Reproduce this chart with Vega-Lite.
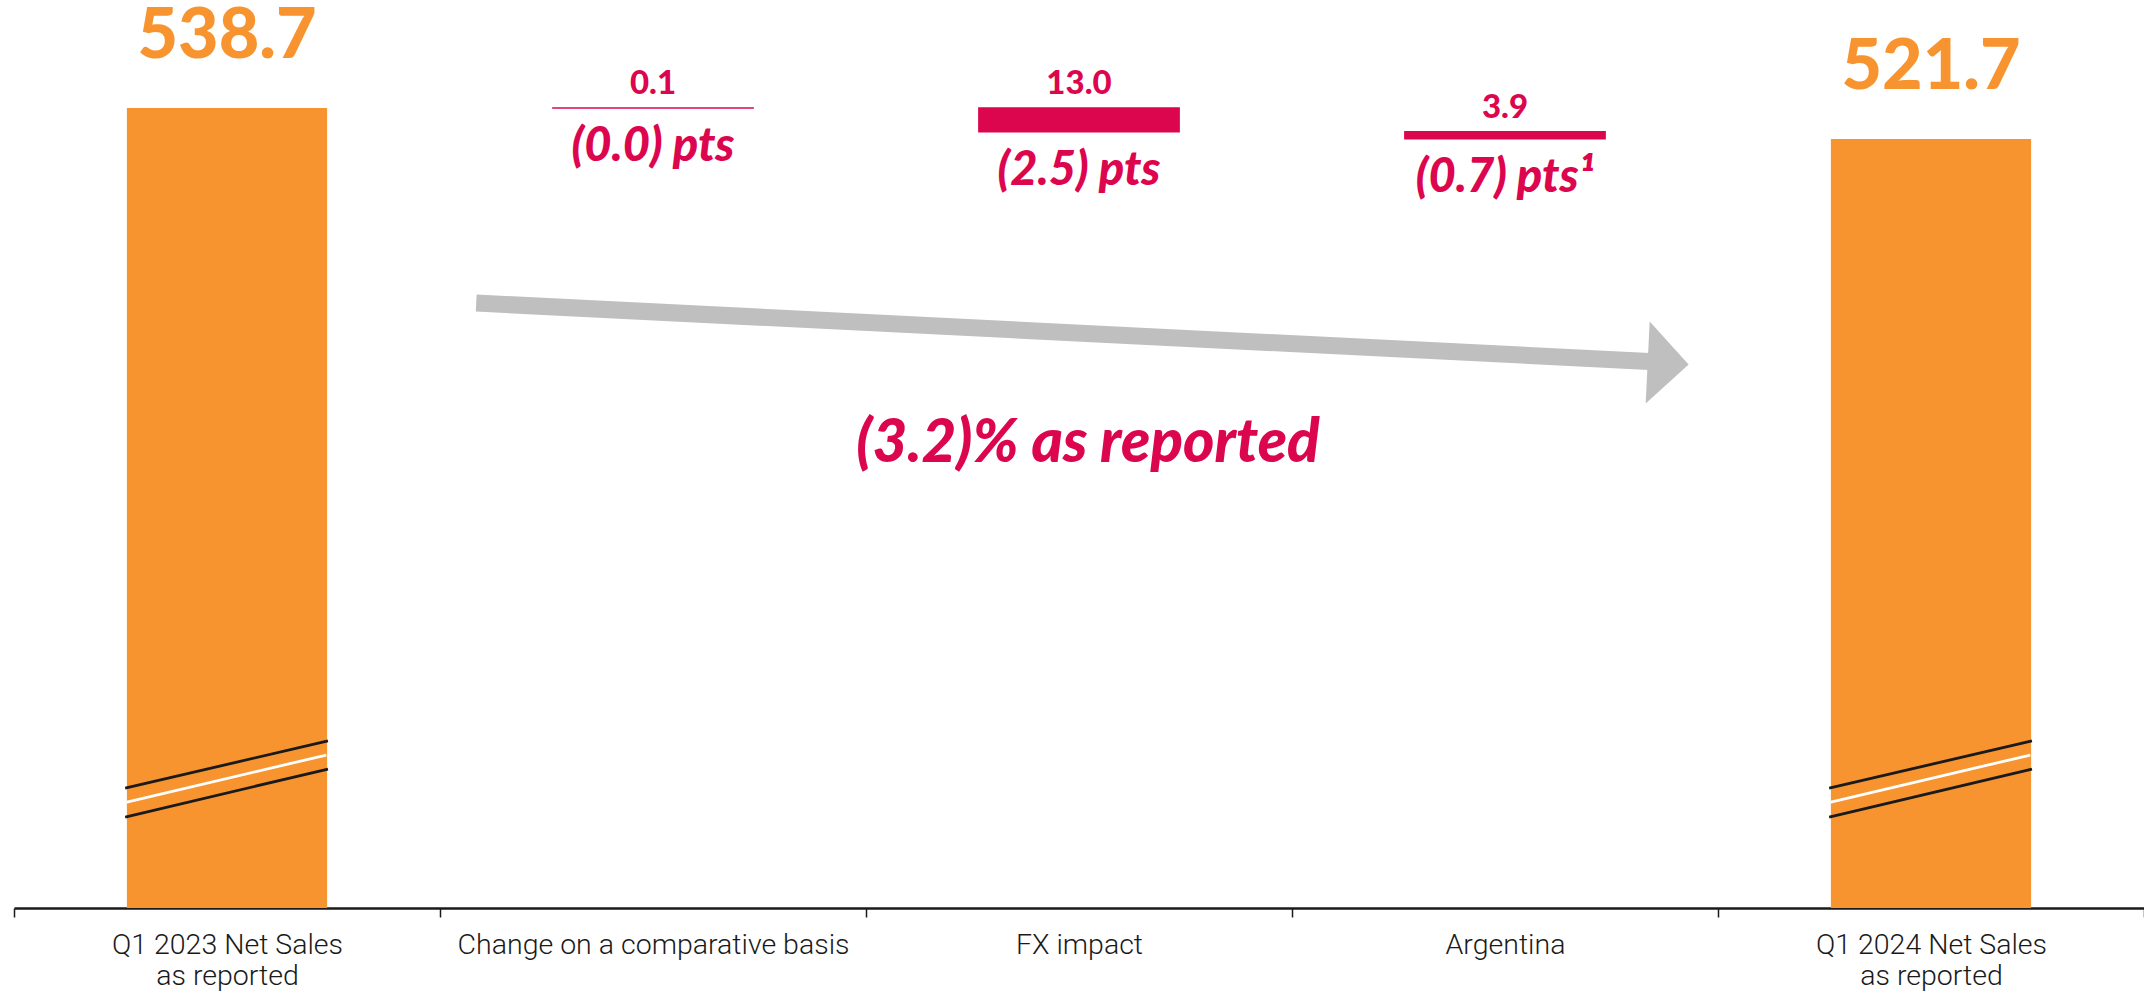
{
  "$schema": "https://vega.github.io/schema/vega-lite/v6.json",
  "width": 2130,
  "height": 908,
  "autosize": {"type": "none"},
  "padding": {"left": 14, "top": 0, "right": 0, "bottom": 87},
  "background": "white",
  "config": {"view": {"stroke": null}},
  "datasets": {
    "bars": [
      {"cat": "Q1 2023 Net Sales|as reported", "kind": "total", "lo": 100, "hi": 538.7, "top": "538.7", "pts": ""},
      {"cat": "Change on  a comparative basis", "kind": "delta", "lo": 538.7, "hi": 538.8, "top": "0.1", "pts": "(0.0) pts"},
      {"cat": "FX impact", "kind": "delta", "lo": 525.8, "hi": 538.8, "top": "13.0", "pts": "(2.5) pts"},
      {"cat": "Argentina", "kind": "delta", "lo": 521.9, "hi": 525.8, "top": "3.9", "pts": "(0.7) pts¹"},
      {"cat": "Q1 2024 Net Sales|as reported", "kind": "total", "lo": 100, "hi": 521.7, "top": "521.7", "pts": ""}
    ],
    "shaft": [
      {"px": 1.085, "py": 431.8},
      {"px": 3.85, "py": 399.6}
    ],
    "head": [
      {"px": 3.883, "py": 398.6}
    ],
    "breaks": [
      {"bar": "first", "line": "edge", "x1": 0.261, "x2": 0.737, "y1": 165.8, "y2": 191.6},
      {"bar": "first", "line": "middle", "x1": 0.265, "x2": 0.733, "y1": 158.1, "y2": 183.9},
      {"bar": "first", "line": "edge", "x1": 0.261, "x2": 0.737, "y1": 149.9, "y2": 176.2},
      {"bar": "last", "line": "edge", "x1": 4.261, "x2": 4.737, "y1": 165.8, "y2": 191.6},
      {"bar": "last", "line": "middle", "x1": 4.265, "x2": 4.733, "y1": 158.1, "y2": 183.9},
      {"bar": "last", "line": "edge", "x1": 4.261, "x2": 4.737, "y1": 149.9, "y2": 176.2}
    ],
    "note": [
      {"px": 2.521, "py": 344.6, "text": "(3.2)% as reported"}
    ]
  },
  "layer": [
    {
      "data": {"name": "bars"},
      "encoding": {
        "x": {
          "field": "cat",
          "type": "nominal",
          "sort": null,
          "scale": {
            "domain": ["Q1 2023 Net Sales|as reported", "Change on  a comparative basis", "FX impact", "Argentina", "Q1 2024 Net Sales|as reported"],
            "paddingInner": 0,
            "paddingOuter": 0
          },
          "axis": {
            "title": null,
            "labelAngle": 0,
            "labelExpr": "datum.value ? split(datum.value, '|') : ''",
            "labelFont": "Roboto",
            "labelFontWeight": 300,
            "labelFontSize": 28.5,
            "labelLimit": 0,
            "labelColor": "#1a1a1a",
            "labelLineHeight": 31,
            "labelPadding": 13,
            "domainColor": "#1a1a1a",
            "domainWidth": 2.5,
            "tickColor": "#1a1a1a",
            "tickWidth": 1.5,
            "tickSize": 9,
            "tickBand": "extent",
            "grid": false
          }
        }
      },
      "layer": [
        {
          "transform": [{"filter": "datum.kind === 'total'"}],
          "mark": {"type": "bar", "width": {"band": 0.47}, "color": "#F7942F"},
          "encoding": {
            "y": {"field": "hi", "type": "quantitative", "scale": {"domain": [100, 598], "zero": false, "nice": false}, "axis": null},
            "y2": {"field": "lo"}
          }
        },
        {
          "transform": [{"filter": "datum.kind === 'delta'"}],
          "mark": {"type": "bar", "width": {"band": 0.47}, "color": "#DC064E", "stroke": "#DC064E", "strokeWidth": 1.5},
          "encoding": {
            "y": {"field": "hi", "type": "quantitative", "scale": {"domain": [100, 598], "zero": false, "nice": false}, "axis": null},
            "y2": {"field": "lo"}
          }
        },
        {
          "transform": [{"filter": "datum.kind === 'total'"}],
          "mark": {"type": "text", "font": "Lato", "fontWeight": 900, "fontSize": 70, "color": "#F7942F", "align": "center", "baseline": "alphabetic", "dy": -50},
          "encoding": {
            "y": {"field": "hi", "type": "quantitative", "scale": {"domain": [100, 598], "zero": false, "nice": false}, "axis": null},
            "text": {"field": "top"}
          }
        },
        {
          "transform": [{"filter": "datum.kind === 'delta'"}],
          "mark": {"type": "text", "font": "Lato", "fontWeight": 900, "fontSize": 33, "color": "#DC064E", "align": "center", "baseline": "alphabetic", "dy": -14},
          "encoding": {
            "y": {"field": "hi", "type": "quantitative", "scale": {"domain": [100, 598], "zero": false, "nice": false}, "axis": null},
            "text": {"field": "top"}
          }
        },
        {
          "transform": [{"filter": "datum.kind === 'delta'"}],
          "mark": {"type": "text", "font": "Lato", "fontWeight": 900, "fontStyle": "italic", "fontSize": 47, "color": "#DC064E", "align": "center", "baseline": "alphabetic", "dy": 53},
          "encoding": {
            "y": {"field": "lo", "type": "quantitative", "scale": {"domain": [100, 598], "zero": false, "nice": false}, "axis": null},
            "text": {"field": "pts"}
          }
        }
      ]
    },
    {
      "layer": [
        {
          "data": {"name": "shaft"},
          "mark": {"type": "line", "color": "#BFBFBF", "strokeWidth": 17, "strokeCap": "butt"},
          "encoding": {
            "x": {"field": "px", "type": "quantitative", "scale": {"domain": [0, 5], "nice": false, "zero": false}, "axis": null},
            "y": {"field": "py", "type": "quantitative", "scale": {"domain": [100, 598], "zero": false, "nice": false}, "axis": null}
          }
        },
        {
          "data": {"name": "head"},
          "mark": {"type": "point", "shape": "M -0.5 -1 L 0.5 0 L -0.5 1 Z", "size": 6724, "angle": 2.8, "filled": true, "opacity": 1, "color": "#BFBFBF", "strokeWidth": 0},
          "encoding": {
            "x": {"field": "px", "type": "quantitative", "scale": {"domain": [0, 5], "nice": false, "zero": false}, "axis": null},
            "y": {"field": "py", "type": "quantitative", "scale": {"domain": [100, 598], "zero": false, "nice": false}, "axis": null}
          }
        },
        {
          "data": {"name": "breaks"},
          "mark": {"type": "rule", "strokeWidth": 2.8},
          "encoding": {
            "x": {"field": "x1", "type": "quantitative", "scale": {"domain": [0, 5], "nice": false, "zero": false}, "axis": null},
            "x2": {"field": "x2"},
            "y": {"field": "y1", "type": "quantitative", "scale": {"domain": [100, 598], "zero": false, "nice": false}, "axis": null},
            "y2": {"field": "y2"},
            "color": {"field": "line", "type": "nominal", "scale": {"domain": ["edge", "middle"], "range": ["#1a1a1a", "#ffffff"]}, "legend": null}
          }
        },
        {
          "data": {"name": "note"},
          "mark": {"type": "text", "font": "Lato", "fontWeight": 900, "fontStyle": "italic", "fontSize": 60, "color": "#DC064E", "align": "center", "baseline": "alphabetic"},
          "encoding": {
            "x": {"field": "px", "type": "quantitative", "scale": {"domain": [0, 5], "nice": false, "zero": false}, "axis": null},
            "y": {"field": "py", "type": "quantitative", "scale": {"domain": [100, 598], "zero": false, "nice": false}, "axis": null},
            "text": {"field": "text"}
          }
        }
      ]
    }
  ],
  "resolve": {"scale": {"x": "independent"}}
}
